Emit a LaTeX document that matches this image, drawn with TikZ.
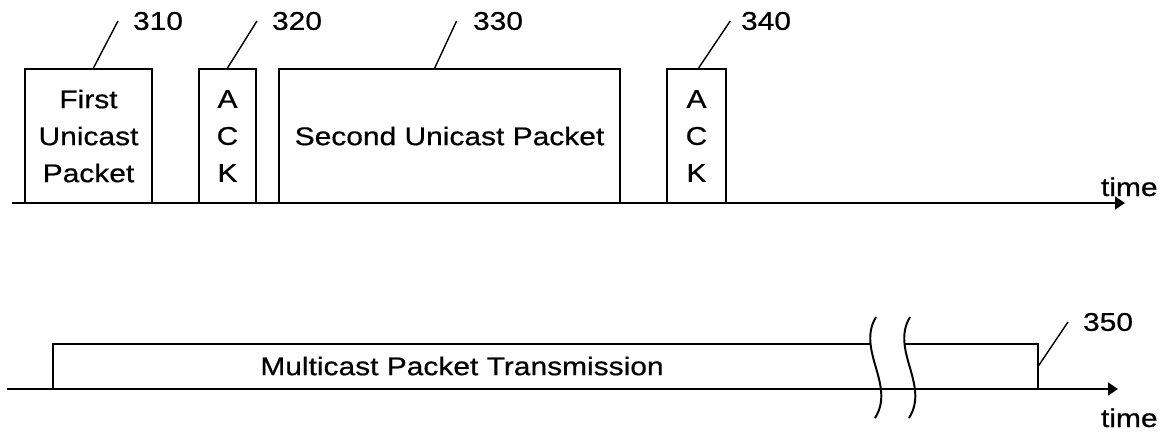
\documentclass[tikz,border=0pt]{standalone}
\usepackage{fontspec}
\setmainfont{Liberation Sans}[FakeStretch=1.17, FakeBold=0.6]
\usetikzlibrary{arrows.meta,calc}

\begin{document}
\begin{tikzpicture}[x=0.025cm, y=-0.025cm, line width=1.4pt,
    every node/.style={font=\fontsize{18.2}{26.3}\selectfont},
    packet/.style={draw, rectangle, align=center, inner sep=0pt, minimum height=3.35cm},
    refnum/.style={inner sep=0pt},
    leader/.style={line width=1pt},
    timeaxis/.style={-{Triangle[length=7pt,width=9pt]}}]
\useasboundingbox (0,0) rectangle (1168,434);

% Draw unicast packets
\node[packet, minimum width=3.175cm] (first) at (88.5,136) {First\\Unicast\\Packet};
\node[packet, minimum width=1.425cm] (ack1) at (227.5,136) {A\\C\\K};
\node[packet, minimum width=8.525cm] (second) at (449.5,136) {Second Unicast Packet};
\node[packet, minimum width=1.475cm] (ack2) at (696.5,136) {A\\C\\K};

% Draw top time axis
\coordinate (topstart) at (12,203);
\coordinate (topend) at (1125,203);
\draw[timeaxis] (topstart) -- (topend);
\node[anchor=base west, inner sep=0pt] (toptime) at (1100,196) {time};

% Draw reference numbers
\node[refnum] (r310) at (158,21) {310};
\node[refnum] (r320) at (297,21) {320};
\node[refnum] (r330) at (498,21) {330};
\node[refnum] (r340) at (766,21) {340};
\draw[leader] ([xshift=3.5]first.north) -- ([xshift=-10]r310.west);
\draw[leader] (ack1.north) -- ([xshift=-10]r320.west);
\draw[leader] ([xshift=-10.5]second.north) -- ([xshift=-11]r330.west);
\draw[leader] ([xshift=1.5]ack2.north) -- ([xshift=-7]r340.west);

% Draw multicast transmission with break
\node (mcast) at (462,366) {Multicast Packet Transmission};
\draw (53,389) -- (53,344) -- (871,344);
\draw (905,344) -- (1038,344) -- (1038,389);
\coordinate (mcastedge) at (1038,366.5);
\draw (876,317) .. controls (856,350) and (896,385) .. (875,418);
\draw (910,317) .. controls (890,350) and (930,385) .. (909,418);

% Draw bottom time axis
\coordinate (botstart) at (7,389);
\coordinate (botend) at (1118,389);
\draw[timeaxis] (botstart) -- (botend);
\node[anchor=base west, inner sep=0pt] (bottime) at (1100,427) {time};

\node[refnum] (r350) at (1108,322) {350};
\draw[leader] (mcastedge) -- ([xshift=-10]r350.west);
\end{tikzpicture}
\end{document}
